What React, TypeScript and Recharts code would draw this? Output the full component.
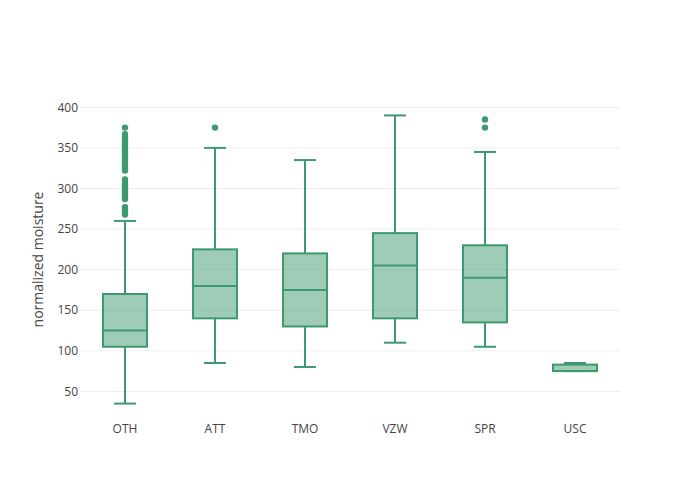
import * as React from "react";
import {
  ComposedChart,
  Bar,
  Scatter,
  XAxis,
  YAxis,
  CartesianGrid,
  Label,
} from "recharts";

const carriers = ["OTH", "ATT", "TMO", "VZW", "SPR", "USC"];
const lowerFence = [35, 85, 80, 110, 105, 75];
const quartile1 = [105, 140, 130, 140, 135, 75];
const medians = [125, 180, 175, 205, 190, 75];
const quartile3 = [170, 225, 220, 245, 230, 83];
const upperFence = [260, 350, 335, 390, 345, 85];
const yTicks = [50, 100, 150, 200, 250, 300, 350, 400];

const outliersOTH = [
  268, 271, 274, 277, 287, 290, 293, 296, 299, 302, 305, 308, 311, 322, 325,
  328, 331, 334, 337, 340, 343, 346, 349, 352, 355, 358, 361, 364, 367, 375,
];
const outliersATT = [375];
const outliersSPR = [375, 385];

const GREEN = "rgb(61,153,112)";
const FILL = "rgba(61,153,112,0.5)";
const FONT = '"Open Sans", verdana, arial, sans-serif';

const boxData = carriers.map((name, i) => ({
  name,
  range: [lowerFence[i], upperFence[i]],
  q1: quartile1[i],
  median: medians[i],
  q3: quartile3[i],
}));

const outlierData = [
  ...outliersOTH.map((v) => ({ name: "OTH", v })),
  ...outliersATT.map((v) => ({ name: "ATT", v })),
  ...outliersSPR.map((v) => ({ name: "SPR", v })),
];

const BoxShape = (props: any) => {
  const { x, y, width, height, payload } = props;
  const [lo, hi] = payload.range;
  const toPx = (v: number) => y + ((hi - v) * height) / (hi - lo);
  const cx = x + width / 2;
  const capHalf = width / 4;
  const yq1 = toPx(payload.q1);
  const yq3 = toPx(payload.q3);
  const ymed = toPx(payload.median);
  const ylo = toPx(lo);
  const yhi = toPx(hi);
  return (
    <g>
      <line x1={cx} x2={cx} y1={yhi} y2={yq3} stroke={GREEN} strokeWidth={2} />
      <line x1={cx} x2={cx} y1={yq1} y2={ylo} stroke={GREEN} strokeWidth={2} />
      <line x1={cx - capHalf} x2={cx + capHalf} y1={yhi} y2={yhi} stroke={GREEN} strokeWidth={2} />
      <line x1={cx - capHalf} x2={cx + capHalf} y1={ylo} y2={ylo} stroke={GREEN} strokeWidth={2} />
      <rect
        x={x}
        y={yq3}
        width={width}
        height={Math.max(yq1 - yq3, 0)}
        fill={FILL}
        stroke={GREEN}
        strokeWidth={2}
      />
      <line x1={x} x2={x + width} y1={ymed} y2={ymed} stroke={GREEN} strokeWidth={2} />
    </g>
  );
};

const YTitle = (props: any) => {
  const { viewBox } = props;
  const cx = 37;
  const cy = viewBox.y + viewBox.height / 2;
  return (
    <text
      x={cx}
      y={cy}
      transform={`rotate(-90 ${cx} ${cy})`}
      textAnchor="middle"
      dominantBaseline="central"
      fontFamily={FONT}
      fontSize={14}
      fill="#444"
    >
      normalized moisture
    </text>
  );
};

export default function App() {
  return (
    <div style={{ position: "absolute", left: 0, top: 0, width: 700, height: 500, background: "#fff" }}>
      <ComposedChart
        width={700}
        height={500}
        data={boxData}
        margin={{ top: 100, right: 80, bottom: 0, left: 0 }}
      >
        <CartesianGrid
          horizontal
          vertical={false}
          horizontalValues={yTicks}
          stroke="#eee"
          strokeWidth={1}
        />
        <XAxis
          dataKey="name"
          type="category"
          allowDuplicatedCategory={false}
          height={81}
          tickLine={false}
          axisLine={false}
          tickSize={0}
          tickMargin={5}
          tick={{ fill: "#444", fontSize: 12, fontFamily: FONT }}
        />
        <YAxis
          type="number"
          domain={[16, 409]}
          ticks={yTicks}
          width={80}
          tickLine={false}
          axisLine={false}
          tickSize={0}
          tickMargin={2}
          allowDataOverflow
          tick={{ fill: "#444", fontSize: 12, fontFamily: FONT }}
        >
          <Label content={<YTitle />} />
        </YAxis>
        <Bar dataKey="range" barSize={44} shape={<BoxShape />} isAnimationActive={false} />
        <Scatter
          data={outlierData}
          dataKey="v"
          fill={GREEN}
          shape={(p: any) => <circle cx={p.cx} cy={p.cy} r={3.2} fill={GREEN} />}
          isAnimationActive={false}
        />
      </ComposedChart>
    </div>
  );
}
